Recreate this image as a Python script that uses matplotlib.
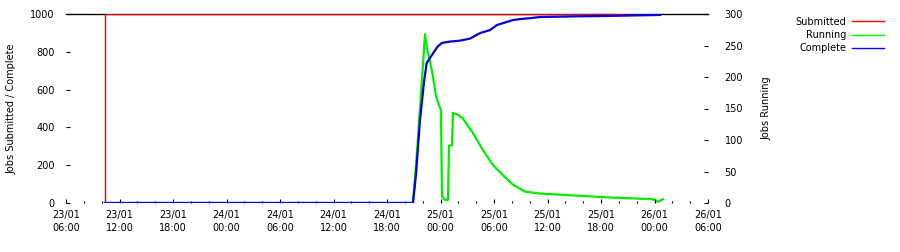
import matplotlib
matplotlib.use("Agg")
import matplotlib.pyplot as plt
import matplotlib.dates as mdates
from matplotlib.lines import Line2D
import pandas as pd
import numpy as np

# ---- data (hours since 23/01 06:00) ----
start = pd.Timestamp("2000-01-23 06:00")
end = pd.Timestamp("2000-01-26 06:00")

submitted_hours = [4.37, 4.37, 66.62]
submitted_values = [0, 1000, 1000]

complete_hours = [4.37, 38.91, 39.25, 39.70, 40.15, 40.45, 40.82, 41.27, 41.72, 42.17,
                  43.06, 44.19, 45.31, 46.43, 47.55, 48.34, 49.23, 50.13, 50.91,
                  52.04, 53.16, 55.40, 57.64, 59.89, 62.13, 64.37, 66.62]
complete_values = [0, 0, 150, 439, 640, 741, 767, 800, 830, 847,
                   854, 859, 870, 899, 915, 942, 955, 968, 973,
                   978, 984, 986, 988, 989, 991, 993, 995]

running_hours = [4.37, 38.91, 39.03, 39.36, 39.70, 40.04, 40.26, 40.49, 40.82, 41.16,
                 41.49, 41.83, 42.05, 42.17, 42.50, 42.84, 42.95, 43.29, 43.40,
                 43.96, 44.52, 45.64, 46.76, 47.89, 49.01, 50.13, 51.48,
                 53.16, 56.86, 60.67, 65.83, 66.39, 66.95]
running_values = [0, 0, 20, 80, 150, 220, 268, 245, 225, 200,
                  170, 155, 148, 10, 5, 5, 91, 92, 143,
                  140, 134, 111, 84, 60, 44, 29, 18,
                  15, 12, 9, 6, 2, 6]

left_ticks = [0, 200, 400, 600, 800, 1000]
right_ticks = [0, 50, 100, 150, 200, 250, 300]

def to_time(hours):
    return [start + pd.Timedelta(hours=h) for h in hours]

fig = plt.figure(figsize=(9, 2.52), dpi=100)
ax = fig.add_axes([66/900, 1-203/252, (708-66)/900, (203-14)/252])
ax2 = ax.twinx()

red = "#dd0000"
green = "#00ee00"
blue = "#0000e0"

ax.plot(to_time(submitted_hours), submitted_values, color=red, lw=1.0, zorder=3)
ax.plot(to_time(complete_hours), complete_values, color=blue, lw=1.6, zorder=4)
ax2.plot(to_time(running_hours), running_values, color=green, lw=1.6, zorder=3)

ax.set_xlim(start, end)
ax.set_ylim(0, 1000)
ax2.set_ylim(0, 300)
ax.set_zorder(ax2.get_zorder() + 1)
ax.patch.set_visible(False)

for a in (ax, ax2):
    for s in ("left", "right", "bottom"):
        a.spines[s].set_visible(False)
ax.spines["top"].set_linewidth(1.0)
ax2.spines["top"].set_visible(False)

fs = 7
ax.set_yticks(left_ticks)
ax.set_yticklabels([str(t) for t in left_ticks], fontsize=fs)
ax2.set_yticks(right_ticks)
ax2.set_yticklabels([str(t) for t in right_ticks], fontsize=fs)

ax.xaxis.set_major_locator(mdates.HourLocator(byhour=[0, 6, 12, 18]))
ax.xaxis.set_minor_locator(mdates.HourLocator(interval=2))
ax.xaxis.set_major_formatter(mdates.DateFormatter("%d/%m\n%H:%M"))
ax.tick_params(axis="x", which="major", direction="in", length=3, width=0.8, pad=5, labelsize=fs)
ax.tick_params(axis="x", which="minor", direction="in", length=1.5, width=0.8)
ax.tick_params(axis="y", direction="in", length=3, width=0.8, pad=8, labelsize=fs)
ax2.tick_params(axis="y", direction="in", length=3, width=0.8, pad=12, labelsize=fs)
fig.canvas.draw()
for lab in ax.get_xticklabels():
    lab.set_linespacing(1.35)

ax.set_ylabel("Jobs Submitted / Complete", fontsize=fs, labelpad=10)
ax2.set_ylabel("Jobs Running", fontsize=fs, labelpad=13)

handles = [Line2D([], [], color="#ff0000", lw=1),
           Line2D([], [], color="#00ff00", lw=1),
           Line2D([], [], color="#0000ff", lw=1)]
leg = fig.legend(handles, ["Submitted", "Running", "Complete"], loc="upper right",
                 bbox_to_anchor=(888/900, 1-13/252), frameon=False, fontsize=fs,
                 markerfirst=False, handlelength=3.3, handletextpad=0.6,
                 labelspacing=0.32, borderaxespad=0)
for t in leg.get_texts():
    t.set_ha("right")

fig.savefig("out.png", dpi=100)
